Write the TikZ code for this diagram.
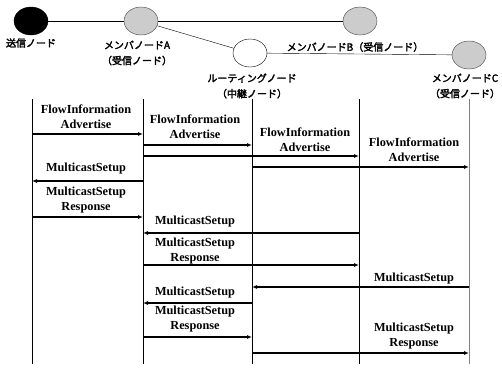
\documentclass[tikz,border=0pt]{standalone}
\usepackage{fontspec}
\setmainfont{Liberation Serif}
\newfontfamily\jp[AutoFakeBold=2.5]{Noto Sans CJK JP}
\usetikzlibrary{positioning}
\usetikzlibrary{shapes.geometric}
\usetikzlibrary{arrows.meta}
\tikzset{peer/.style = {draw, ellipse, minimum width = 34, minimum height = 28, inner sep = 0}}
\tikzset{sendnode/.style = {peer, fill = black}}
\tikzset{membnode/.style = {peer, fill = black!20, draw = black!75}}
\tikzset{routenode/.style = {peer, fill = white}}
\tikzset{jplabel/.style = {font = \jp\bfseries\fontsize{10}{15.5}\selectfont, align = center, inner sep = 0}}
\tikzset{lifeline/.style = {line width = 1pt}}
\tikzset{msg/.style = {line width = 1.3pt, -{Latex[length=5pt,width=4pt]}}}
\tikzset{msglabel/.style = {font = \bfseries\fontsize{12.3}{15}\selectfont, align = center, inner sep = 0}}

\begin{document}
\begin{tikzpicture}[x=1pt, y=-1pt]
    \useasboundingbox (0,0) rectangle (502,367);
    % network
    \node[sendnode] (snd) at (31,21) {};
    \node[membnode] (mA) at (141,21) {};
    \node[membnode] (mB) at (360,21) {};
    \node[routenode] (rt) at (250,53) {};
    \node[membnode] (mC) at (469,55) {};
    \draw (snd) -- (mA);
    \draw (mA) -- (mB);
    \draw (mA) -- (rt);
    \draw (rt) -- (mC);
    \node[jplabel] (lsnd) at (31,43) {送信ノード};
    \node[jplabel] (lA) at (137,53) {メンバノードA\\（受信ノード）};
    \node[jplabel] (lrt) at (252,86) {ルーティングノード\\（中継ノード）};
    \node[jplabel] (lB) at (355,47) {メンバノードB（受信ノード）};
    \node[jplabel] (lC) at (465,86) {メンバノードC\\（受信ノード）};
    % lifelines
    \foreach \n/\x in {S/32, A/143, R/252, B/359, C/469} {
        \coordinate (top\n) at (\x,99);
        \coordinate (bot\n) at (\x,364);
    }
    \foreach \n in {S, A, R, B} {
        \draw[lifeline] (top\n) -- (bot\n);
    }
    \draw[lifeline, black!50] (topC) -- (botC);
    % messages
    \foreach \y/\from/\to in {134/S/A, 145/A/R, 156/A/B, 167/R/C,
                              181/A/S, 217/S/A, 233/B/A, 265/A/B,
                              287/C/R, 303/R/A, 337/A/R, 353/R/C} {
        \draw[msg] (top\from |- 0,\y) -- (top\to |- 0,\y);
    }
    \foreach \x/\y/\txt [count=\i] in {
        86/116.5/{FlowInformation\\Advertise},
        195/127/{FlowInformation\\Advertise},
        305/139.5/{FlowInformation\\Advertise},
        414/150/{FlowInformation\\Advertise},
        86/169/{MulticastSetup},
        86/200.5/{MulticastSetup\\Response},
        195/222/{MulticastSetup},
        195/251/{MulticastSetup\\Response},
        414/279/{MulticastSetup},
        195/293/{MulticastSetup},
        195/319.5/{MulticastSetup\\Response},
        414/336/{MulticastSetup\\Response}} {
        \node[msglabel] (lbl\i) at (\x,\y) {\txt};
    }
\end{tikzpicture}
\end{document}
